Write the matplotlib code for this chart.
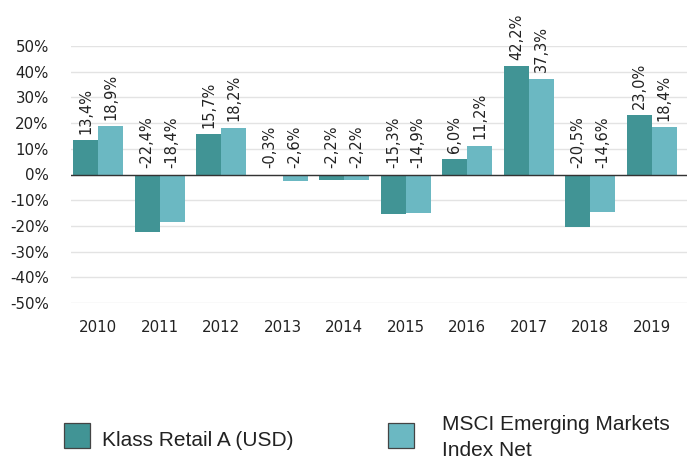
import numpy as np
import matplotlib.pyplot as plt
from matplotlib.patches import Rectangle

years = ['2010', '2011', '2012', '2013', '2014', '2015', '2016', '2017', '2018', '2019']
fund = [13.4, -22.4, 15.7, -0.3, -2.2, -15.3, 6.0, 42.2, -20.5, 23.0]
index_net = [18.9, -18.4, 18.2, -2.6, -2.2, -14.9, 11.2, 37.3, -14.6, 18.4]
series_names = ['Klass Retail A (USD)', 'MSCI Emerging Markets\nIndex Net']
colors = ['#419495', '#6bb8c2']

fig = plt.figure(figsize=(6.87, 4.57), dpi=100)
ax = fig.add_axes([71 / 687, 154 / 457, 616 / 687, 257 / 457])

x = np.arange(len(years))
w = 0.405
for vals, off, col in [(fund, -w / 2, colors[0]), (index_net, w / 2, colors[1])]:
    ax.bar(x + off, vals, width=w, color=col, zorder=2)
    for xi, v in zip(x + off, vals):
        ax.annotate(f'{v:.1f}%'.replace('.', ','), (xi, max(v, 0)),
                    xytext=(0, 4.5), textcoords='offset points',
                    rotation=90, ha='center', va='bottom',
                    fontsize=10.5, color='#222222', annotation_clip=False)

ax.axhline(0, color='#333333', lw=1, zorder=3)
ax.set_ylim(-50, 50)
ax.set_xlim(-0.44, 9.57)
ax.set_yticks(np.arange(-50, 51, 10))
ax.set_yticklabels([f'{t}%' for t in range(-50, 51, 10)])
ax.set_xticks(x)
ax.set_xticklabels(years)
ax.grid(axis='y', color='#e3e3e3', lw=1, zorder=0)
ax.tick_params(axis='y', length=0, pad=16, labelsize=10.8, labelcolor='#222222')
ax.tick_params(axis='x', length=0, pad=12, labelsize=10.8, labelcolor='#222222')
for s in ax.spines.values():
    s.set_visible(False)

# legend drawn by hand at the bottom
for lx, col in [(64, colors[0]), (388, colors[1])]:
    fig.patches.append(Rectangle((lx / 687, (457 - 448) / 457), 26 / 687, 25 / 457,
                                 transform=fig.transFigure, facecolor=col,
                                 edgecolor='#444444', lw=0.9))
fig.text(102 / 687, (457 - 446) / 457, series_names[0], fontsize=15,
         family='Liberation Sans', va='baseline', ha='left', color='#222222')
fig.text(442 / 687, (457 - 415) / 457, series_names[1], fontsize=15,
         family='Liberation Sans', va='top', ha='left', color='#222222',
         linespacing=1.5)

fig.savefig('out.png', dpi=100)
